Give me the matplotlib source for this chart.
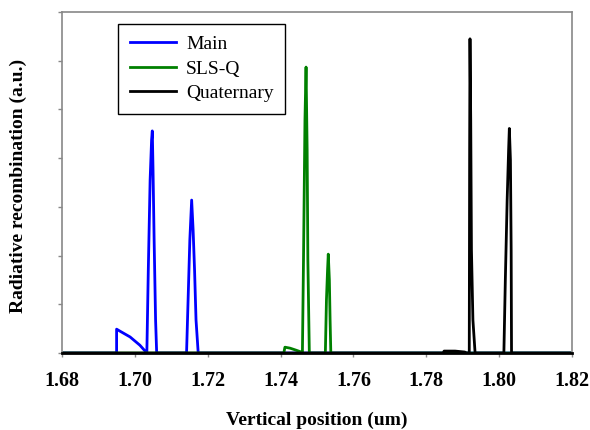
import matplotlib
matplotlib.use("Agg")
import matplotlib.pyplot as plt

# Radiative recombination profiles vs vertical position
main_x = [1.6800, 1.6950, 1.6950, 1.6959, 1.6987, 1.7014, 1.7033,
          1.7037, 1.7042, 1.7046, 1.7048, 1.7050, 1.7053, 1.7057, 1.7060,
          1.7142, 1.7147, 1.7151, 1.7156, 1.7160, 1.7164, 1.7168, 1.7174, 1.8200]
main_y = [0, 0, 0.49, 0.45, 0.33, 0.16, 0,
          1.70, 3.55, 4.37, 4.56, 3.76, 2.32, 0.68, 0,
          0, 1.29, 2.32, 3.14, 2.53, 1.70, 0.68, 0, 0]

slsq_x = [1.6800, 1.7409, 1.7412, 1.7426, 1.7442, 1.7457, 1.7460,
          1.7463, 1.7467, 1.7470, 1.7473, 1.7475, 1.7479,
          1.7523, 1.7526, 1.7529, 1.7531, 1.7534, 1.7536, 1.7538, 1.8200]
slsq_y = [0, 0, 0.12, 0.10, 0.06, 0.02, 0,
          1.91, 4.78, 5.87, 4.17, 1.91, 0,
          0, 1.09, 1.70, 2.03, 1.50, 0.68, 0, 0]

quat_x = [1.6800, 1.7846, 1.7849, 1.7879, 1.7906, 1.7909,
          1.7918, 1.7919, 1.7920, 1.7922, 1.7924, 1.7928, 1.7934,
          1.8013, 1.8017, 1.8022, 1.8026, 1.8028, 1.8031, 1.8033, 1.8034, 1.8200]
quat_y = [0, 0, 0.04, 0.04, 0.02, 0,
          0, 4.17, 6.45, 4.78, 2.11, 0.68, 0,
          0, 1.50, 3.14, 4.17, 4.61, 3.96, 2.11, 0, 0]

xticks = [1.68, 1.70, 1.72, 1.74, 1.76, 1.78, 1.80, 1.82]

plt.rcParams['font.family'] = ['Liberation Serif', 'DejaVu Serif']

fig = plt.figure(figsize=(5.9, 4.3), dpi=100)
ax = fig.add_axes([0.105, 0.179, 0.8645, 0.793])

ax.plot(main_x, main_y, color='#0000ff', lw=2, label='Main')
ax.plot(slsq_x, slsq_y, color='#008000', lw=2, label='SLS-Q')
ax.plot(quat_x, quat_y, color='black', lw=2, label='Quaternary')

ax.set_xlim(1.68, 1.82)
ax.set_ylim(0, 7)
ax.set_xticks(xticks)
ax.set_xticklabels(["{:.2f}".format(t) for t in xticks], fontsize=14.5, fontweight='bold')
ax.set_yticks(range(8))
ax.set_yticklabels([])
ax.tick_params(axis='both', direction='out', length=3, width=1, color='#888888')
ax.tick_params(axis='x', pad=10)

for s in ['left', 'top', 'right']:
    ax.spines[s].set_color('#888888')
    ax.spines[s].set_linewidth(1.2)
ax.spines['bottom'].set_color('black')
ax.spines['bottom'].set_linewidth(2)

ax.set_xlabel("Vertical position (um)", fontsize=14, fontweight='bold', labelpad=15)
ax.set_ylabel("Radiative recombination (a.u.)", fontsize=14, fontweight='bold')
ax.yaxis.set_label_coords(-0.068, 0.49)

leg = ax.legend(loc='upper left', bbox_to_anchor=(0.11, 0.965), fontsize=14,
                fancybox=False, edgecolor='black', framealpha=1, handlelength=2.4,
                borderpad=0.6, labelspacing=0.35, handletextpad=0.5, borderaxespad=0)
leg.get_frame().set_linewidth(1)

fig.savefig("out.png", dpi=100)
